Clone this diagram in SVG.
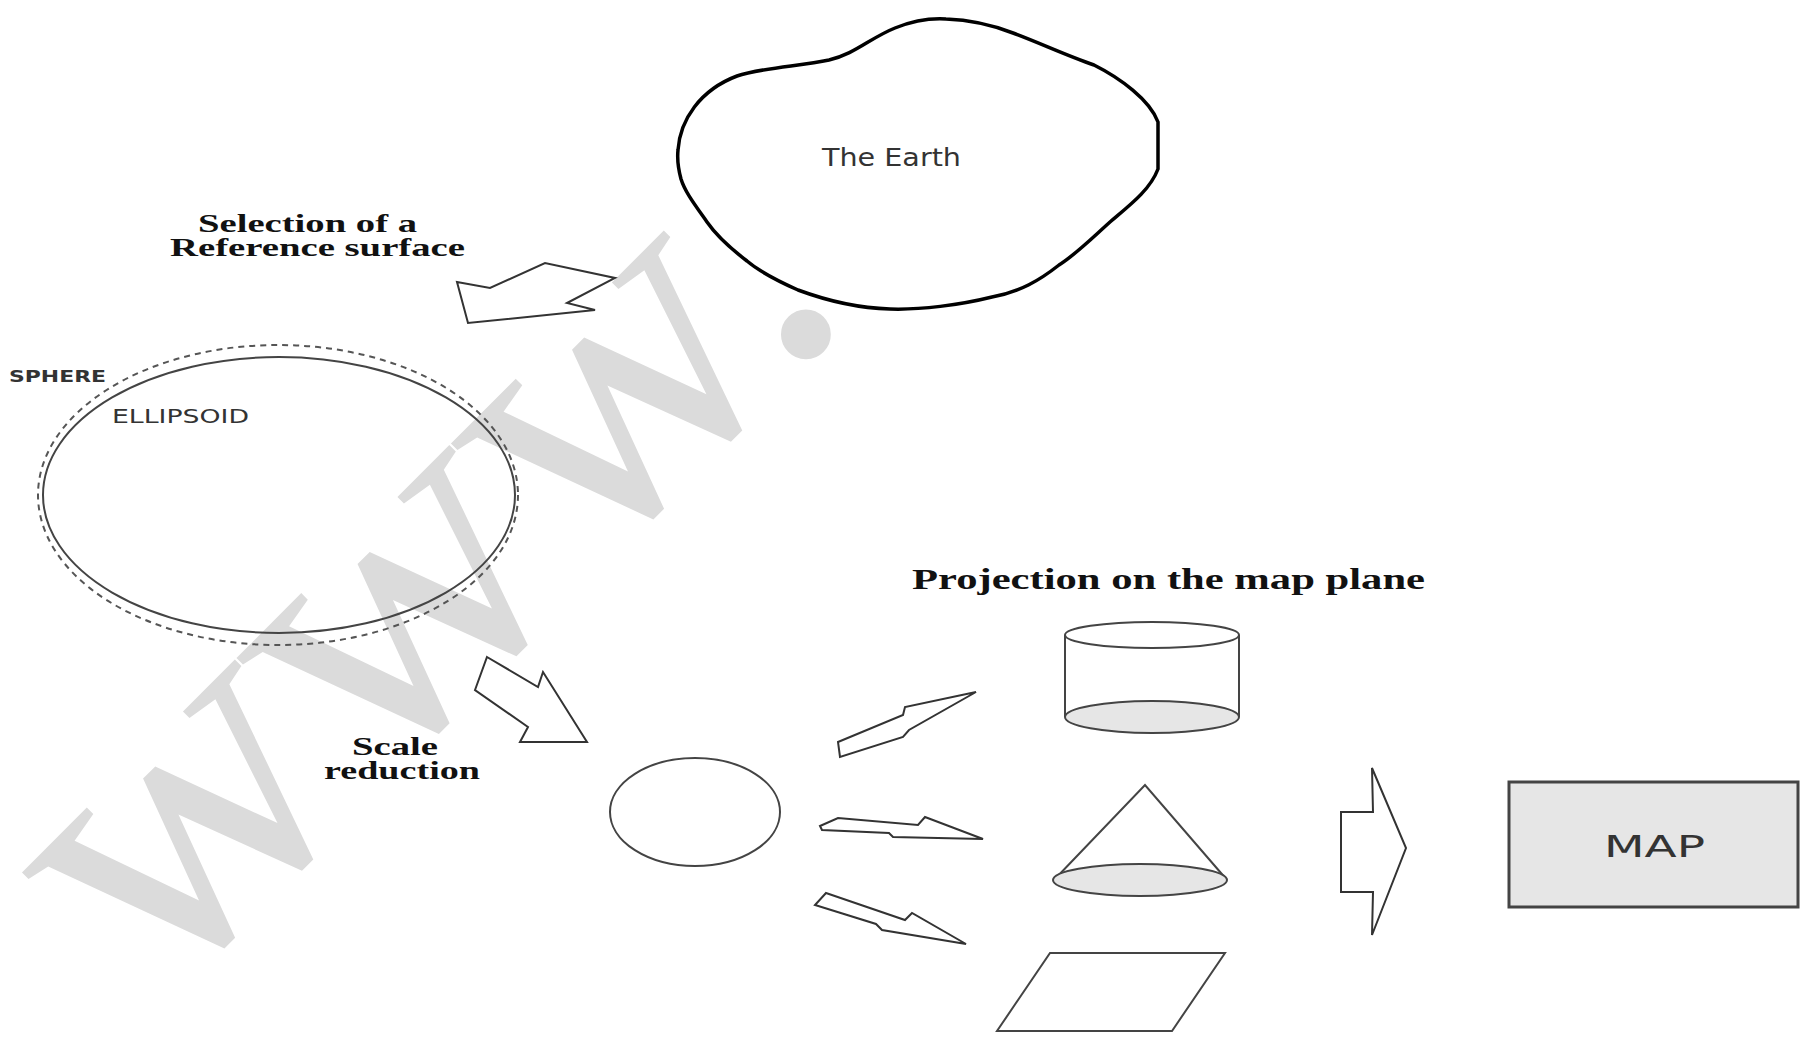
<svg xmlns="http://www.w3.org/2000/svg" width="1806" height="1038" viewBox="0 0 1806 1038">
<style>
.wm{font-family:"Liberation Serif",serif;fill:#dbdbdb}
.lbl{font-family:"Liberation Serif",serif;font-weight:bold;fill:#111}
.sm{font-family:"DejaVu Sans","Liberation Sans",sans-serif;fill:#333}
.arrow{fill:#fff;stroke:#333;stroke-width:2;stroke-linejoin:miter}
.shape{fill:none;stroke:#444;stroke-width:2}
.base{fill:#e6e6e6;stroke:#444;stroke-width:2}
</style>
<rect width="1806" height="1038" fill="#fff"/>
<g id="watermark">
<text class="wm" transform="translate(158,1009) rotate(-45)" font-size="420">www.</text>
</g>
<g id="earth">
<path d="M678,150 C680,120 700,90 737,76 C760,68 800,66 829,60 C855,54 870,38 895,28 C915,20 930,18 946,19 C975,20 995,26 1013,33 C1040,43 1065,55 1094,65 C1120,78 1150,100 1158,122 L1158,169 C1150,190 1130,205 1110,222 C1090,240 1075,255 1059,265 C1040,280 1020,292 992,297 C960,305 920,310 890,309 C855,308 825,300 798,290 C780,282 760,272 747,261 C730,248 716,235 707,222 C695,205 685,192 681,179 C678,168 677,160 678,150 Z" fill="#fff" stroke="#000" stroke-width="3.5"/>
<text class="sm" x="822" y="166" font-size="24" textLength="139" lengthAdjust="spacingAndGlyphs">The Earth</text>
</g>
<g id="label-selection">
<text class="lbl" x="198" y="232" font-size="25" textLength="219" lengthAdjust="spacingAndGlyphs">Selection of a</text>
<text class="lbl" x="170" y="256" font-size="25" textLength="295" lengthAdjust="spacingAndGlyphs">Reference surface</text>
</g>
<g id="reference-surface">
<ellipse cx="278" cy="495" rx="240" ry="150" fill="none" stroke="#555" stroke-width="2" stroke-dasharray="6 5"/>
<ellipse cx="279" cy="495" rx="236" ry="138" class="shape"/>
<text class="sm" x="9" y="382" font-size="16" font-weight="bold" textLength="97" lengthAdjust="spacingAndGlyphs">SPHERE</text>
<text class="sm" x="112" y="423" font-size="19" textLength="137" lengthAdjust="spacingAndGlyphs">ELLIPSOID</text>
</g>
<g id="label-scale">
<text class="lbl" x="352" y="755" font-size="25" textLength="86" lengthAdjust="spacingAndGlyphs">Scale</text>
<text class="lbl" x="324" y="779" font-size="25" textLength="156" lengthAdjust="spacingAndGlyphs">reduction</text>
</g>
<g id="globe">
<ellipse cx="695" cy="812" rx="85" ry="54" class="shape"/>
</g>
<g id="label-projection">
<text class="lbl" x="912" y="589" font-size="29" textLength="513" lengthAdjust="spacingAndGlyphs">Projection on the map plane</text>
</g>
<g id="cylinder">
<path d="M1065,635 L1065,717 M1239,635 L1239,717" class="shape"/>
<ellipse cx="1152" cy="717" rx="87" ry="16" class="base"/>
<ellipse cx="1152" cy="635" rx="87" ry="13" class="shape"/>
</g>
<g id="cone">
<path d="M1054,880 L1145,785 L1227,880" class="shape"/>
<ellipse cx="1140" cy="880" rx="87" ry="16" class="base"/>
</g>
<g id="plane">
<polygon points="1050,953 1225,953 1172,1031 997,1031" class="shape"/>
</g>
<g id="map">
<rect x="1509" y="782" width="289" height="125" fill="#e6e6e6" stroke="#444" stroke-width="3"/>
<text class="sm" x="1604" y="857" font-size="30" textLength="101" lengthAdjust="spacingAndGlyphs" fill="#222">MAP</text>
</g>
<g id="connectors">
<polygon class="arrow" points="457,282 490,288 545,263 615,278 567,303 595,310 468,323"/>
<polygon class="arrow" points="487,657 538,687 543,672 587,742 520,742 528,727 475,690"/>
<polygon class="arrow" points="838,742 903,715 905,707 976,692 909,730 903,737 840,757"/>
<polygon class="arrow" points="820,826 838,818 918,825 925,817 983,839 893,837 889,833 822,830"/>
<polygon class="arrow" points="826,893 905,920 912,913 966,944 882,930 876,924 815,905"/>
<polygon class="arrow" points="1372,768 1406,848 1372,935 1373,892 1341,892 1341,812 1373,812"/>
</g>
</svg>
